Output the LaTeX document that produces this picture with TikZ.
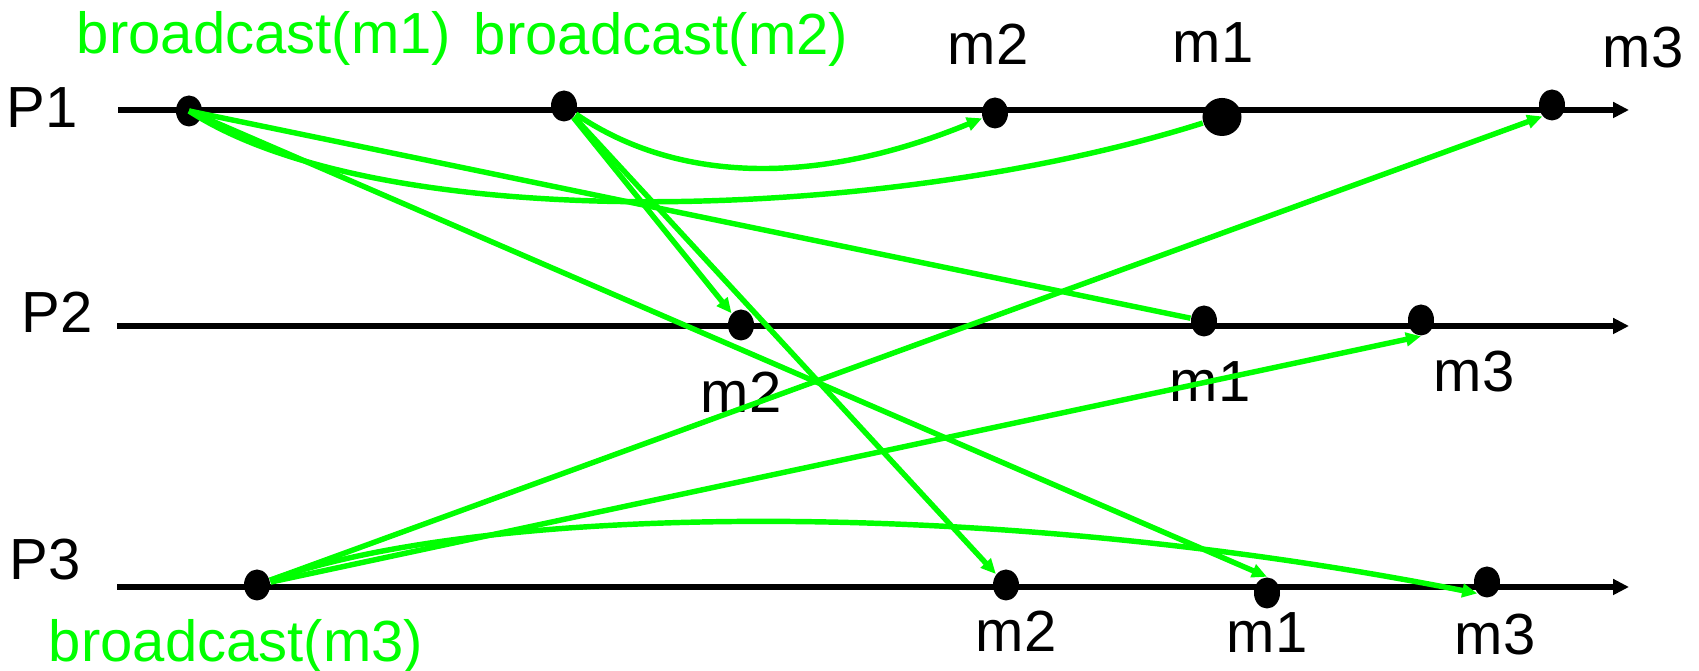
\documentclass[tikz,border=0pt]{standalone}
\usepackage{fontspec}
\setmainfont{Liberation Sans}
\usetikzlibrary{arrows.meta,shapes.geometric}
\definecolor{msggreen}{RGB}{0,255,0}

\begin{document}
\begin{tikzpicture}[x=0.01cm,y=-0.01cm,>={Triangle[length=4.3pt,width=3.8pt]},
  font=\fontsize{16.5}{19.8}\selectfont,
  proc/.style={line width=1.45pt,-{Triangle[length=4.5pt,width=4.3pt]}},
  ev/.style={ellipse,fill=black,inner sep=0pt,minimum width=0.26cm,minimum height=0.31cm},
  bigev/.style={ev,minimum width=0.39cm,minimum height=0.38cm},
  msg/.style={msggreen,line width=1.55pt},
  lbl/.style={anchor=base,inner sep=0pt}]
\useasboundingbox (0,0) rectangle (1699,671);
\coordinate (s1) at (118,110); \coordinate (e1) at (1629,110);
\coordinate (s2) at (117,326); \coordinate (e2) at (1629,326);
\coordinate (s3) at (117,587); \coordinate (e3) at (1629,587);
\draw[proc] (s1) -- (e1); \draw[proc] (s2) -- (e2); \draw[proc] (s3) -- (e3);
\node[lbl] (P1) at (42,128) {P1}; \node[lbl] (P2) at (57,333) {P2}; \node[lbl] (P3) at (45,580) {P3};
% events
\node[ev] (bc1) at (189,111) {}; \node[ev] (bc2) at (564,106) {};
\node[ev] (p1m2) at (995,113) {}; \node[bigev] (p1m1) at (1222,117) {}; \node[ev] (p1m3) at (1552,105) {};
\node[ev] (p2m2) at (741,325) {}; \node[ev] (p2m1) at (1204,321) {}; \node[ev] (p2m3) at (1421,320) {};
\node[ev] (bc3) at (257,585) {};
\node[ev] (p3m2) at (1006,585) {}; \node[ev] (p3m1) at (1267,593) {}; \node[ev] (p3m3) at (1487,582) {};
% labels
\node[lbl,msggreen] (t1) at (264,54) {broadcast(m1)}; \node[lbl,msggreen] (t2) at (661,55) {broadcast(m2)};
\node[lbl,msggreen] (t3) at (236,662) {broadcast(m3)};
\node[lbl] (l1a) at (988,65) {m2}; \node[lbl] (l1b) at (1213,63) {m1}; \node[lbl] (l1c) at (1643,68) {m3};
\node[lbl] (l2a) at (741,413) {m2}; \node[lbl] (l2b) at (1210,402) {m1}; \node[lbl] (l2c) at (1474,392) {m3};
\node[lbl] (l3a) at (1016,652) {m2}; \node[lbl] (l3b) at (1267,653) {m1}; \node[lbl] (l3c) at (1495,655) {m3};
% messages
\draw[msg] (bc1.center) .. controls (380,235) and (880,225) .. (p1m1);
\draw[msg] (bc1.center) -- (p2m1);
\draw[msg,->] (bc1.center) -- (p3m1.north);
\draw[msg,->] (bc2) .. controls (680,185) and (820,185) .. (p1m2);
\draw[msg,->] (bc2) -- (p2m2);
\draw[msg,->] (bc2) -- (p3m2);
\draw[msg,->] (bc3) -- (p1m3.south west);
\draw[msg,->] (bc3) -- (p2m3.south);
\draw[msg,->] (bc3) .. controls (480,505) and (980,495) .. (p3m3.south west);
\end{tikzpicture}
\end{document}
